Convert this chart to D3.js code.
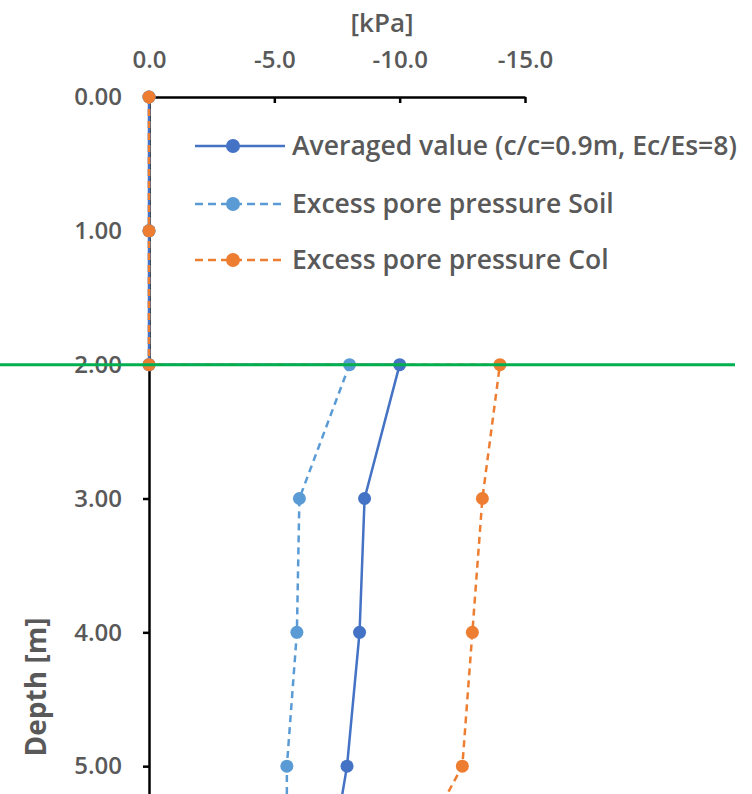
<!DOCTYPE html>
<html>
<head>
<meta charset="utf-8">
<script src="https://cdn.jsdelivr.net/npm/d3@7"></script>
<style>
  body { margin: 0; background: #fff; }
  text { font-family: "Open Sans", "Noto Sans", sans-serif; fill: #595959; }
</style>
</head>
<body>
<svg id="chart"></svg>
<script>
// depths [m] and values [kPa]
var depths = [0, 1, 2, 2, 3, 4, 5, 6];
var averaged = [0, 0, 0, -10.0, -8.6, -8.4, -7.9, -7.0];
var soil = [0, 0, 0, -8.0, -6.0, -5.9, -5.5, -5.5];
var col = [0, 0, 0, -14.0, -13.3, -12.9, -12.5, -9.6];

var xTicks = [0, -5, -10, -15];
var yTicks = [0, 1, 2, 3, 4, 5];
var markerDepth = 2;

var series = [
    { name: "Averaged value (c/c=0.9m, Ec/Es=8)", values: averaged, color: "#4472C4", dash: null },
    { name: "Excess pore pressure Soil", values: soil, color: "#5B9BD5", dash: "7,5" },
    { name: "Excess pore pressure Col", values: col, color: "#ED7D31", dash: "7,5" }
];

var width = 752;
var height = 794;

var svg = d3.select("#chart").attr("width", width).attr("height", height);

var x = d3.scaleLinear().domain([0, -15]).range([149, 525]);
var y = d3.scaleLinear().domain([0, 6]).range([97, 900]);

// top axis, ticks pointing down
var xAxis = svg.append("g")
    .attr("transform", "translate(0," + y(0) + ")")
    .call(d3.axisTop(x).tickValues(xTicks).tickSizeInner(-6).tickSizeOuter(0).tickPadding(29)
        .tickFormat(function (d) { return d.toFixed(1); }));

var yAxis = svg.append("g")
    .attr("transform", "translate(" + x(0) + ",0)")
    .call(d3.axisLeft(y).tickValues(yTicks).tickSizeInner(6).tickSizeOuter(0).tickPadding(21)
        .tickFormat(function (d) { return d.toFixed(2); }));

[xAxis, yAxis].forEach(function (g) {
    g.select(".domain").attr("stroke", "#000").attr("stroke-width", 2.5);
    g.selectAll(".tick line").attr("stroke", "#000").attr("stroke-width", 2.5);
    g.selectAll(".tick text").style("font-size", "24px").style("font-weight", 600).attr("fill", "#595959");
});

svg.append("text")
    .attr("x", 382)
    .attr("y", 32)
    .attr("text-anchor", "middle")
    .style("font-size", "26px")
    .style("font-weight", 600)
    .text("[kPa]");

svg.append("text")
    .attr("transform", "translate(46,687) rotate(-90)")
    .attr("text-anchor", "middle")
    .style("font-size", "28px")
    .style("font-weight", 700)
    .text("Depth [m]");

var line = d3.line()
    .x(function (d) { return x(d.v); })
    .y(function (d) { return y(d.depth); });

series.forEach(function (s) {
    var pts = depths.map(function (dp, i) { return { depth: dp, v: s.values[i] }; });
    svg.append("path")
        .datum(pts)
        .attr("fill", "none")
        .attr("stroke", s.color)
        .attr("stroke-width", 2.5)
        .attr("stroke-dasharray", s.dash)
        .attr("d", line);
    svg.selectAll(null)
        .data(pts)
        .enter()
        .append("circle")
        .attr("cx", function (d) { return x(d.v); })
        .attr("cy", function (d) { return y(d.depth); })
        .attr("r", 6.5)
        .attr("fill", s.color);
});

// legend
var legend = svg.append("g");
series.forEach(function (s, i) {
    var ly = [146, 204, 260][i];
    legend.append("line")
        .attr("x1", 195).attr("x2", 285)
        .attr("y1", ly).attr("y2", ly)
        .attr("stroke", s.color)
        .attr("stroke-width", 2.5)
        .attr("stroke-dasharray", s.dash ? "8,5" : null);
    legend.append("circle").attr("cx", 233).attr("cy", ly).attr("r", 7).attr("fill", s.color);
    legend.append("text")
        .attr("x", 292).attr("y", ly)
        .attr("dy", "0.35em")
        .style("font-size", "26.5px")
        .style("font-weight", 600)
        .text(s.name);
});

// green marker line at 2 m
svg.append("line")
    .attr("x1", 0).attr("x2", 735)
    .attr("y1", y(markerDepth)).attr("y2", y(markerDepth))
    .attr("stroke", "#00B050")
    .attr("stroke-width", 3);
</script>
</body>
</html>
